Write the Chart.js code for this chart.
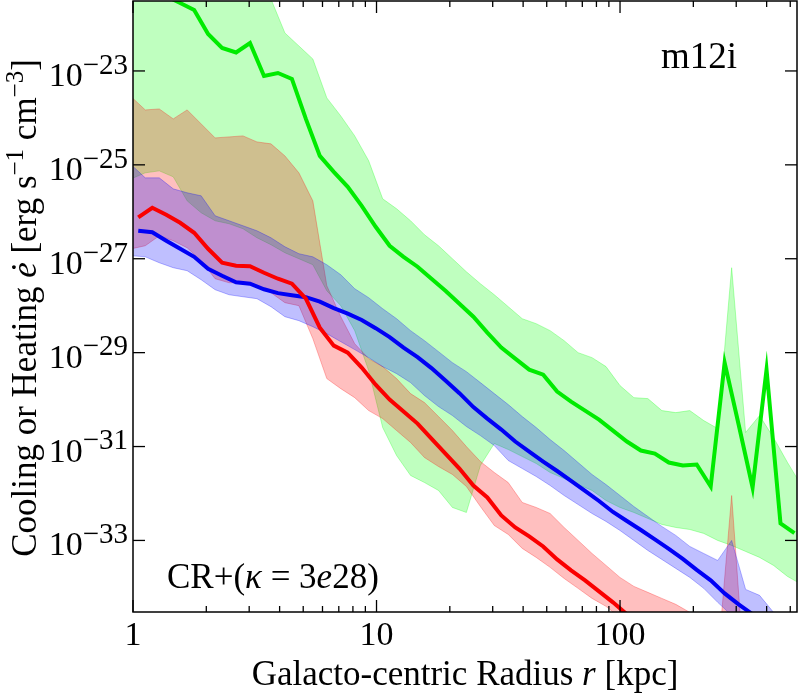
<!DOCTYPE html>
<html>
<head>
<meta charset="utf-8">
<script src="https://cdn.jsdelivr.net/npm/chart.js@4.4.1/dist/chart.umd.min.js"></script>
<style>
  html, body { margin: 0; padding: 0; background: #fff; }
  #wrap { width: 800px; height: 694px; position: relative; }
</style>
</head>
<body>
<div id="wrap"><canvas id="chart"></canvas></div>
<script>
// radii (kpc) of the median lines and of the percentile bands
const lineRadius = [1.051, 1.200, 1.369, 1.562, 1.783, 2.034, 2.322, 2.650, 3.023, 3.451,
    3.937, 4.493, 5.127, 5.850, 6.675, 7.617, 8.693, 9.918, 11.32, 12.91,
    14.74, 16.81, 19.19, 21.90, 24.99, 28.51, 32.54, 37.13, 42.37, 48.35,
    55.17, 62.95, 71.84, 81.98, 93.54, 106.7, 121.8, 139.0, 158.6, 181.0,
    206.5, 235.7, 268.9, 306.9, 350.2, 399.6, 456.0, 520.3];
const bandRadius = [0.984, 1.123, 1.282, 1.463, 1.669, 1.905, 2.174, 2.481, 2.830, 3.229,
    3.686, 4.206, 4.800, 5.476, 6.250, 7.132, 8.137, 9.286, 10.60, 12.09,
    13.80, 15.74, 17.97, 20.50, 23.39, 26.70, 30.46, 34.75, 39.67, 45.26,
    51.64, 58.94, 67.26, 76.74, 87.58, 99.93, 114.0, 130.1, 148.5, 169.4,
    193.4, 220.7, 251.8, 287.3, 327.9, 374.1, 426.9, 487.3, 555.9];

// medians
const greenLine = [8.22e-22, 5.56e-22, 3.94e-22, 2.80e-22, 1.99e-22, 6.12e-23, 3.08e-23, 2.48e-23, 3.94e-23, 7.83e-24,
    9.06e-24, 6.76e-24, 9.53e-25, 1.55e-25, 7.10e-26, 3.40e-26, 1.34e-26, 4.80e-27, 1.89e-27, 1.10e-27,
    6.76e-28, 3.75e-28, 2.08e-28, 1.10e-28, 5.83e-29, 2.67e-29, 1.28e-29, 7.45e-30, 4.35e-30, 3.40e-30,
    1.48e-30, 9.06e-31, 5.83e-31, 3.75e-31, 2.19e-31, 1.28e-31, 8.22e-32, 7.10e-32, 4.57e-32, 3.94e-32,
    4.14e-32, 1.41e-32, 6.12e-30, 2.94e-31, 1.34e-32, 4.35e-30, 2.30e-33, 1.43e-33];
const redLine = [7.57e-27, 1.22e-26, 8.63e-27, 5.83e-27, 3.57e-27, 1.63e-27, 8.22e-28, 7.10e-28, 6.92e-28, 5.04e-28,
    3.75e-28, 2.94e-28, 1.41e-28, 3.40e-29, 1.41e-29, 1.00e-29, 4.80e-30, 2.08e-30, 1.00e-30, 5.56e-31,
    3.08e-31, 1.48e-31, 7.10e-32, 3.40e-32, 1.48e-32, 8.22e-33, 3.40e-33, 1.89e-33, 1.22e-33, 7.45e-34,
    3.94e-34, 2.30e-34, 1.41e-34, 8.22e-35, 4.80e-35, 2.67e-35, null, null, null, null,
    null, null, null, null, null, null, null, null];
const blueLine = [3.94e-27, 3.66e-27, 2.42e-27, 1.63e-27, 1.10e-27, 6.12e-28, 4.35e-28, 3.16e-28, 2.94e-28, 2.24e-28,
    1.85e-28, 1.67e-28, 1.52e-28, 1.22e-28, 8.85e-29, 6.76e-29, 4.97e-29, 3.32e-29, 2.14e-29, 1.28e-29,
    8.02e-30, 4.68e-30, 2.54e-30, 1.37e-30, 6.92e-31, 3.94e-31, 2.30e-31, 1.28e-31, 7.83e-32, 4.80e-32,
    3.01e-32, 1.85e-32, 1.13e-32, 6.92e-33, 4.04e-33, 2.60e-33, 1.67e-33, 1.05e-33, 6.59e-34, 4.04e-34,
    2.36e-34, 1.41e-34, 7.45e-35, 4.35e-35, 2.67e-35, null, null, null];

// percentile bands
const greenHigh = [9.53e-21, 7.45e-21, 5.83e-21, 4.57e-21, 3.57e-21, 2.67e-21, 1.99e-21, 1.34e-21, 9.06e-22, 5.56e-22,
    3.40e-22, 6.44e-23, 3.40e-23, 1.80e-23, 2.67e-24, 1.10e-24, 4.14e-25, 1.22e-25, 1.89e-26, 1.16e-26,
    6.44e-27, 3.24e-27, 1.89e-27, 1.00e-27, 5.28e-28, 2.94e-28, 1.71e-28, 9.53e-29, 5.28e-29, 4.14e-29,
    2.94e-29, 1.80e-29, 1.00e-29, 7.83e-30, 5.04e-30, 1.99e-30, 1.10e-30, 1.05e-30, 5.83e-31, 5.28e-31,
    5.83e-31, 3.57e-31, 2.42e-31, 6.44e-28, 1.99e-31, 4.57e-31, 1.55e-31, 4.57e-32, 1.48e-32];
const greenLow = [5.04e-26, 6.76e-26, 7.45e-26, 5.56e-26, 1.71e-26, 9.53e-27, 6.44e-27, 5.56e-27, 4.35e-27, 2.80e-27,
    1.99e-27, 1.34e-27, 1.00e-27, 7.45e-28, 2.08e-28, 1.00e-28, 2.94e-29, 4.14e-30, 2.54e-31, 6.44e-32,
    2.42e-32, 1.71e-32, 1.16e-32, 5.04e-33, 3.94e-33, 3.94e-32, 1.16e-31, 8.63e-32, 6.12e-32, 4.35e-32,
    2.80e-32, 2.08e-32, 1.55e-32, 1.16e-32, 7.10e-33, 5.04e-33, 3.94e-33, 2.94e-33, 2.19e-33, 1.89e-33,
    1.71e-33, 1.41e-33, 1.00e-33, 7.83e-34, 5.83e-34, 4.35e-34, 2.94e-34, 1.71e-34, 1.16e-34];
const redHigh = [2.80e-24, 1.48e-24, 1.55e-24, 9.53e-25, 1.48e-24, 7.45e-25, 3.75e-25, 3.94e-25, 4.14e-25, 3.08e-25,
    2.80e-25, 1.55e-25, 6.76e-26, 1.71e-26, 2.67e-28, 5.83e-29, 1.55e-29, 7.45e-30, 5.04e-30, 2.80e-30,
    1.34e-30, 8.63e-31, 4.35e-31, 2.19e-31, 1.00e-31, 4.80e-32, 2.80e-32, 1.71e-32, 6.44e-33, 5.04e-33,
    3.75e-33, 1.89e-33, 1.00e-33, 5.28e-34, 2.94e-34, 1.63e-34, 1.05e-34, 7.83e-35, 5.83e-35, 4.35e-35,
    2.94e-35, 7.45e-36, 2.80e-36, 9.06e-33, 6.44e-37, 3.94e-37, 2.42e-37, 1.48e-37, 9.06e-38];
const redLow = [1.63e-27, 1.89e-27, 3.08e-27, 2.42e-27, 1.71e-27, 9.06e-28, 3.75e-28, 3.08e-28, 3.08e-28, 2.67e-28,
    1.89e-28, 1.16e-28, 1.00e-28, 1.99e-29, 2.80e-30, 1.71e-30, 1.10e-30, 5.83e-31, 3.94e-31, 2.19e-31,
    1.22e-31, 5.83e-32, 3.75e-32, 2.54e-32, 1.41e-32, 5.28e-33, 2.08e-33, 1.34e-33, 6.76e-34, 4.35e-34,
    2.67e-34, 1.55e-34, 9.53e-35, 5.83e-35, 3.94e-35, 2.30e-35, 1.41e-35, 8.63e-36, 5.28e-36, 3.24e-36,
    1.99e-36, 1.22e-36, 6.44e-37, 7.45e-36, 3.94e-37, 2.42e-37, 1.48e-37, 9.06e-38, 5.56e-38];
const blueHigh = [1.00e-25, 5.28e-26, 5.28e-26, 3.08e-26, 2.54e-26, 2.19e-26, 8.22e-27, 6.44e-27, 5.04e-27, 3.94e-27,
    2.80e-27, 1.80e-27, 1.28e-27, 1.10e-27, 7.45e-28, 4.57e-28, 2.30e-28, 1.48e-28, 8.63e-29, 5.28e-29,
    2.94e-29, 1.80e-29, 1.05e-29, 6.12e-30, 3.94e-30, 2.30e-30, 1.34e-30, 7.83e-31, 4.35e-31, 2.54e-31,
    1.41e-31, 8.22e-32, 4.57e-32, 2.54e-32, 1.55e-32, 9.06e-33, 5.28e-33, 3.24e-33, 1.99e-33, 1.28e-33,
    7.45e-34, 5.28e-34, 3.75e-34, 1.00e-33, 9.06e-35, 6.76e-35, 2.94e-35, 1.22e-35, 5.83e-36];
const blueLow = [1.16e-27, 1.10e-27, 8.22e-28, 6.44e-28, 5.56e-28, 3.57e-28, 2.19e-28, 1.71e-28, 1.55e-28, 1.41e-28,
    9.53e-29, 5.83e-29, 4.80e-29, 3.57e-29, 2.54e-29, 1.71e-29, 1.16e-29, 7.83e-30, 5.04e-30, 3.57e-30,
    2.30e-30, 1.22e-30, 7.10e-31, 4.57e-31, 2.67e-31, 1.71e-31, 1.05e-31, 5.04e-32, 3.40e-32, 2.30e-32,
    1.48e-32, 9.06e-33, 5.83e-33, 3.75e-33, 2.54e-33, 1.63e-33, 1.00e-33, 6.12e-34, 3.94e-34, 2.54e-34,
    1.63e-34, 9.53e-35, 4.80e-35, 2.54e-35, 1.34e-35, 7.45e-36, 4.14e-36, 2.30e-36, 1.28e-36];

// axes
const xRange = [1, 533];
const yRange = [2.99e-35, 3.09e-22];
const xMajorTicks = [1, 10, 100];
const xMinorTicks = [2, 3, 4, 5, 6, 7, 8, 9, 20, 30, 40, 50, 60, 70, 80, 90, 200, 300, 400, 500];
const yTickExps = [-33, -31, -29, -27, -25, -23];

const FONT = '"Liberation Serif"';

function pts(xs, ys) {
    return xs.map((x, k) => ({ x: x, y: ys[k] }));
}

function lineSet(data, color) {
    return {
        data: pts(lineRadius, data),
        borderColor: color,
        borderWidth: 4,
        fill: false,
        clip: 0
    };
}

function bandSet(data, rgb, isLower) {
    return {
        data: pts(bandRadius, data),
        borderColor: `rgba(${rgb}, 0.28)`,
        backgroundColor: `rgba(${rgb}, 0.25)`,
        borderWidth: 1,
        fill: isLower ? '-1' : false,
        clip: 0
    };
}

function runFont(run, size) {
    const s = run.sup ? Math.round(size * run.sup) : size;
    return (run.it ? 'italic ' : 'normal ') + s + 'px ' + FONT;
}

function drawRich(ctx, runs, x, y, size, align) {
    let w = 0;
    runs.forEach(r => { ctx.font = runFont(r, size); w += ctx.measureText(r.t).width; });
    let cx = align === 'right' ? x - w : align === 'center' ? x - w / 2 : x;
    ctx.textAlign = 'left';
    ctx.textBaseline = 'alphabetic';
    runs.forEach(r => {
        ctx.font = runFont(r, size);
        ctx.fillText(r.t, cx, r.sup ? y - size * 0.36 : y);
        cx += ctx.measureText(r.t).width;
    });
}

const frameAndLabels = {
    id: 'frameAndLabels',
    afterDraw(chart) {
        const ctx = chart.ctx;
        const a = chart.chartArea;
        const xs = chart.scales.x;
        const ys = chart.scales.y;
        ctx.save();
        ctx.strokeStyle = '#000';
        ctx.fillStyle = '#000';

        const seg = (x1, y1, x2, y2) => {
            ctx.beginPath(); ctx.moveTo(x1, y1); ctx.lineTo(x2, y2); ctx.stroke();
        };

        ctx.lineWidth = 1.3;
        xMajorTicks.forEach(v => {
            const px = xs.getPixelForValue(v);
            seg(px, a.bottom, px, a.bottom - 12);
            seg(px, a.top, px, a.top + 12);
        });
        xMinorTicks.forEach(v => {
            const px = xs.getPixelForValue(v);
            seg(px, a.bottom, px, a.bottom - 6);
            seg(px, a.top, px, a.top + 6);
        });
        yTickExps.forEach(e => {
            const py = ys.getPixelForValue(Math.pow(10, e));
            seg(a.left, py, a.left + 12, py);
            seg(a.right, py, a.right - 12, py);
        });

        ctx.lineWidth = 1.5;
        ctx.strokeRect(a.left, a.top, a.right - a.left, a.bottom - a.top);

        // tick labels
        yTickExps.forEach(e => {
            const py = ys.getPixelForValue(Math.pow(10, e));
            drawRich(ctx, [{ t: '10' }, { t: '\u2212' + Math.abs(e), sup: 0.85 }], a.left - 5, py + 15, 34, 'right');
        });
        xMajorTicks.forEach(v => {
            drawRich(ctx, [{ t: String(v) }], xs.getPixelForValue(v), a.bottom + 33, 34, 'center');
        });

        // axis titles
        drawRich(ctx, [{ t: 'Galacto-centric Radius ' }, { t: 'r', it: true }, { t: ' [kpc]' }],
            (a.left + a.right) / 2, a.bottom + 73, 35, 'center');

        ctx.save();
        ctx.translate(36, 308);
        ctx.rotate(-Math.PI / 2);
        drawRich(ctx, [
            { t: 'Cooling or Heating ' }, { t: '\u0117', it: true }, { t: ' [erg s' },
            { t: '\u22121', sup: 0.72 }, { t: ' cm' }, { t: '\u22123', sup: 0.72 }, { t: ']' }
        ], 0, 0, 35, 'center');
        ctx.restore();

        // annotations
        drawRich(ctx, [{ t: 'm12i' }], 699, 68, 37, 'center');
        drawRich(ctx, [
            { t: 'CR+(' }, { t: '\u03ba', it: true }, { t: ' = 3' }, { t: 'e', it: true }, { t: '28)' }
        ], 167, 588, 35, 'left');

        ctx.restore();
    }
};

new Chart(document.getElementById('chart'), {
    type: 'line',
    data: {
        datasets: [
            lineSet(greenLine, 'rgb(0, 235, 0)'),
            lineSet(redLine, 'rgb(250, 0, 0)'),
            lineSet(blueLine, 'rgb(0, 0, 245)'),
            bandSet(blueHigh, '0, 0, 255', false),
            bandSet(blueLow, '0, 0, 255', true),
            bandSet(redHigh, '255, 0, 0', false),
            bandSet(redLow, '255, 0, 0', true),
            bandSet(greenHigh, '0, 255, 0', false),
            bandSet(greenLow, '0, 255, 0', true)
        ]
    },
    options: {
        responsive: true,
        maintainAspectRatio: false,
        animation: false,
        layout: { padding: { left: 133, right: 3, top: 1, bottom: 82 } },
        elements: { point: { radius: 0 }, line: { tension: 0 } },
        plugins: {
            legend: { display: false },
            tooltip: { enabled: false }
        },
        scales: {
            x: { type: 'logarithmic', min: xRange[0], max: xRange[1], bounds: 'data', display: false },
            y: { type: 'logarithmic', min: yRange[0], max: yRange[1], bounds: 'data', display: false }
        }
    },
    plugins: [frameAndLabels]
});
</script>
</body>
</html>
